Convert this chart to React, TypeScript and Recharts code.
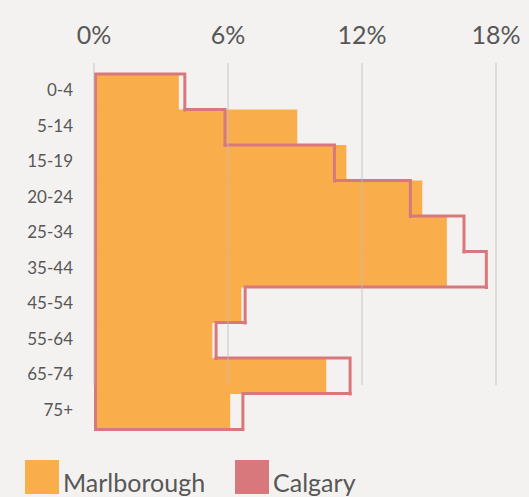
import React from "react";
import {
  BarChart,
  Bar,
  XAxis,
  YAxis,
  CartesianGrid,
  Legend,
} from "recharts";

// age bands, top to bottom
const AGE_GROUPS = ["0-4", "5-14", "15-19", "20-24", "25-34", "35-44", "45-54", "55-64", "65-74", "75+"];
// share of population (%)
const MARLBOROUGH = [3.8, 9.1, 11.3, 14.7, 15.8, 15.8, 6.6, 5.3, 10.4, 6.1];
const CALGARY = [4.0, 5.8, 10.7, 14.1, 16.5, 17.5, 6.7, 5.4, 11.4, 6.6];
const X_TICKS = [0, 6, 12, 18];

const SERIES = ["Marlborough", "Calgary"];
const COLORS = ["#f9ad4b", "#d9787c"];

const FONT = "Lato, 'Open Sans', sans-serif";
const TEXT = "#575757";
const BG = "#f4f2f0";

const data = AGE_GROUPS.map((age, i) => ({
  age,
  marlborough: MARLBOROUGH[i],
  calgary: CALGARY[i],
}));

// step outline for one Calgary band: joins to the previous band's value
const CalgaryStep = (props: any) => {
  const { x, y, width, height, index, value } = props;
  const v = Array.isArray(value) ? value[1] - value[0] : value;
  const perUnit = v ? width / v : 0;
  const prevEnd = index === 0 ? x : x + CALGARY[index - 1] * perUnit;
  const last = index === CALGARY.length - 1;
  const right = x + width;
  let d = `M${x},${y} L${x},${y + height} M${prevEnd},${y} L${right},${y} L${right},${y + height}`;
  if (last) d += ` L${x},${y + height}`;
  return (
    <path
      d={d}
      fill="none"
      stroke={COLORS[1]}
      strokeWidth={3}
      strokeLinejoin="miter"
      strokeLinecap="square"
      transform="translate(1.5,0)"
    />
  );
};

// vertical grid lines stop short of the bottom, like the original
const GridLine = (props: any) => {
  const { x1, y1, key } = props;
  return (
    <line
      key={key}
      x1={x1}
      x2={x1}
      y1={y1 - 11}
      y2={y1 + 311}
      stroke="#bdbdbd"
      strokeOpacity={0.55}
      strokeWidth={1.5}
    />
  );
};

// age labels, right-aligned against the plot
const AgeTick = (props: any) => {
  const { y, payload } = props;
  return (
    <text
      x={73}
      y={y}
      dy={4.5}
      textAnchor="end"
      fill={TEXT}
      fontSize={17}
      fontFamily={FONT}
    >
      {payload.value}
    </text>
  );
};

const LegendContent = () => (
  <div
    style={{
      display: "flex",
      alignItems: "flex-end",
      height: 65,
      paddingLeft: 25,
      fontFamily: FONT,
      fontSize: 25,
      color: TEXT,
      boxSizing: "border-box",
    }}
  >
    {SERIES.map((name, i) => (
      <div key={name} style={{ display: "flex", alignItems: "flex-end", marginRight: 30 }}>
        <span style={{ width: 34, height: 34, background: COLORS[i], marginRight: 4 }} />
        <span style={{ lineHeight: "26px", marginBottom: -1 }}>{name}</span>
      </div>
    ))}
  </div>
);

export default function App() {
  return (
    <div style={{ width: 529, height: 497, background: BG }}>
      <style>{`body{margin:0;background:${BG}}`}</style>
      <BarChart
        width={529}
        height={497}
        data={data}
        layout="vertical"
        barCategoryGap={0}
        barGap={0}
        margin={{ top: 0, right: 33, bottom: 3, left: 0 }}
      >
        <XAxis
          type="number"
          orientation="top"
          domain={[0, 18]}
          ticks={X_TICKS}
          tickFormatter={(v) => `${v}%`}
          axisLine={false}
          tickLine={false}
          tickSize={0}
          tickMargin={30}
          height={74}
          tick={{ fill: TEXT, fontSize: 25, fontFamily: FONT }}
        />
        <YAxis
          yAxisId="m"
          type="category"
          dataKey="age"
          width={94}
          axisLine={false}
          tickLine={false}
          interval={0}
          tick={<AgeTick />}
        />
        <YAxis yAxisId="c" type="category" dataKey="age" hide />
        <Bar
          yAxisId="m"
          dataKey="marlborough"
          name={SERIES[0]}
          fill={COLORS[0]}
          isAnimationActive={false}
        />
        <Bar
          yAxisId="c"
          dataKey="calgary"
          name={SERIES[1]}
          fill="none"
          shape={<CalgaryStep />}
          isAnimationActive={false}
        />
        <CartesianGrid
          yAxisId="m"
          horizontal={false}
          vertical={GridLine}
          {...({ zIndex: 500 } as any)}
        />
        <Legend verticalAlign="bottom" align="left" content={<LegendContent />} />
      </BarChart>
    </div>
  );
}
